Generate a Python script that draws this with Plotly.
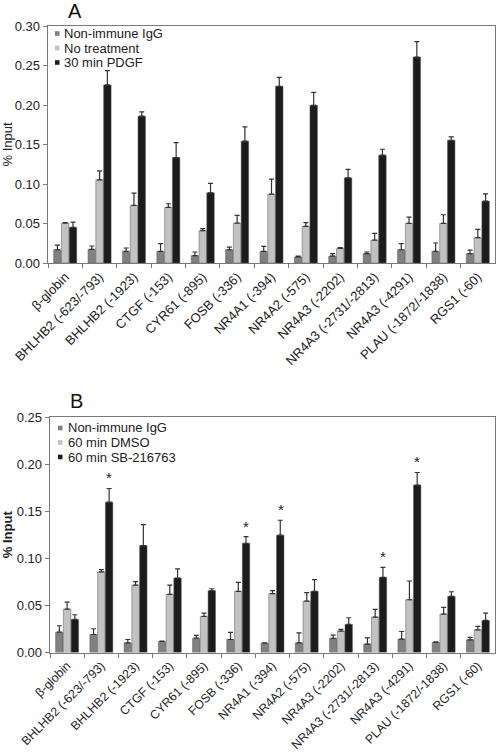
import plotly.graph_objects as go

categories = ["β-globin", "BHLHB2 (-623/-793)", "BHLHB2 (-1923)", "CTGF (-153)",
              "CYR61 (-895)", "FOSB (-336)", "NR4A1 (-394)", "NR4A2 (-575)",
              "NR4A3 (-2202)", "NR4A3 (-2731/-2813)", "NR4A3 (-4291)",
              "PLAU (-1872/-1838)", "RGS1 (-60)"]

# Panel A
a_igg = [0.0168, 0.0173, 0.0147, 0.0147, 0.0093, 0.0168, 0.0147, 0.0076, 0.0088, 0.0118, 0.0168, 0.0147, 0.0118]
a_igg_err = [0.0059, 0.0042, 0.0043, 0.0097, 0.0046, 0.0034, 0.0063, 0.0012, 0.0030, 0.0021, 0.0076, 0.0106, 0.0046]
a_nt = [0.0505, 0.1053, 0.0729, 0.0703, 0.0409, 0.0505, 0.0872, 0.0463, 0.0185, 0.0290, 0.0501, 0.0501, 0.0320]
a_nt_err = [0.0006, 0.0114, 0.0156, 0.0047, 0.0025, 0.0097, 0.0189, 0.0047, 0.0009, 0.0085, 0.0080, 0.0110, 0.0105]
a_pdgf = [0.0450, 0.2254, 0.1858, 0.1335, 0.0889, 0.1542, 0.2237, 0.1997, 0.1078, 0.1365, 0.2607, 0.1554, 0.0783]
a_pdgf_err = [0.0068, 0.0181, 0.0054, 0.0190, 0.0118, 0.0181, 0.0113, 0.0164, 0.0106, 0.0075, 0.0194, 0.0042, 0.0093]

# Panel B
b_igg = [0.0216, 0.0191, 0.0103, 0.0117, 0.0152, 0.0138, 0.0099, 0.0103, 0.0149, 0.0089, 0.0142, 0.0106, 0.0135]
b_igg_err = [0.0068, 0.0061, 0.0035, 0.0004, 0.0029, 0.0075, 0.0004, 0.0106, 0.0035, 0.0067, 0.0081, 0.0007, 0.0025]
b_dmso = [0.0461, 0.0855, 0.0716, 0.0617, 0.0383, 0.0649, 0.0624, 0.0546, 0.0227, 0.0376, 0.0560, 0.0408, 0.0241]
b_dmso_err = [0.0074, 0.0024, 0.0036, 0.0099, 0.0035, 0.0096, 0.0032, 0.0089, 0.0018, 0.0081, 0.0199, 0.0071, 0.0036]
b_sb = [0.0351, 0.1596, 0.1135, 0.0791, 0.0656, 0.1160, 0.1245, 0.0649, 0.0298, 0.0798, 0.1777, 0.0596, 0.0340]
b_sb_err = [0.0050, 0.0145, 0.0223, 0.0096, 0.0021, 0.0070, 0.0159, 0.0124, 0.0071, 0.0106, 0.0134, 0.0049, 0.0078]
b_star = [False, True, False, False, False, True, True, False, False, True, True, False, False]

legend_a = ["Non-immune IgG", "No treatment", "30 min PDGF"]
legend_b = ["Non-immune IgG", "60 min DMSO", "60 min SB-216763"]

colors = ["#808080", "#c2c2c2", "#1c1c1c"]

W, H = 496, 754
FONT = "Liberation Sans, Arial, Helvetica, sans-serif"


def px_x(p):
    return p / W


def px_y(p):
    return 1 - p / H


fig = go.Figure()


def add_panel(series, errs, names, xa, ya):
    for vals, err, name, col in zip(series, errs, names, colors):
        fig.add_trace(go.Bar(
            x=categories, y=vals, name=name, showlegend=False,
            marker=dict(color=col, line=dict(color="#5a5a5a", width=0.5)),
            error_y=dict(type="data", array=err, arrayminus=[0] * len(err), symmetric=False,
                         color="#333333", thickness=1.2, width=2.5),
            xaxis=xa, yaxis=ya))


add_panel([a_igg, a_nt, a_pdgf], [a_igg_err, a_nt_err, a_pdgf_err], legend_a, "x", "y")
add_panel([b_igg, b_dmso, b_sb], [b_igg_err, b_dmso_err, b_sb_err], legend_b, "x2", "y2")


# legend keys (small squares + labels), placed in the top-left of each panel
def add_legend(names, x_sq, x_txt, ys):
    for name, col, yc in zip(names, colors, ys):
        fig.add_shape(type="rect", xref="paper", yref="paper",
                      x0=px_x(x_sq), x1=px_x(x_sq + 4.5), y0=px_y(yc + 2.3), y1=px_y(yc - 2.3),
                      fillcolor=col, line=dict(width=0))
        fig.add_annotation(text=name, x=px_x(x_txt), y=px_y(yc), xref="paper", yref="paper",
                           xanchor="left", yanchor="middle", showarrow=False,
                           font=dict(size=13, family=FONT, color="#222"))


add_legend(legend_a, 55, 62, [33.5, 48, 62.5])
add_legend(legend_b, 58, 65.5, [428, 442.5, 457])

# significance stars
for cat, v, e, s in zip(categories, b_sb, b_sb_err, b_star):
    if s:
        fig.add_annotation(x=cat, y=v + e, xref="x2", yref="y2", text="*", showarrow=False,
                           xshift=8, yshift=0, yanchor="bottom",
                           font=dict(size=15, color="#222", family=FONT))

axis_common = dict(showline=True, linecolor="#7a7a7a", linewidth=1.3, mirror=True,
                   showgrid=False, zeroline=False, automargin=False,
                   tickfont=dict(size=13, color="#222", family=FONT))
xaxis_b_common = dict(axis_common, tickfont=dict(size=12.3, color="#222", family=FONT))

fig.update_layout(
    width=W, height=H, margin=dict(l=0, r=0, t=0, b=0),
    paper_bgcolor="white", plot_bgcolor="white",
    barmode="group", bargap=0.32, bargroupgap=0.04,
    showlegend=False,
    font=dict(family=FONT, color="#222"),
    xaxis=dict(domain=[px_x(48), px_x(495)], anchor="y", type="category",
               tickangle=-45, tickson="boundaries", ticks="outside", ticklen=4,
               tickcolor="#7a7a7a", **axis_common),
    yaxis=dict(domain=[px_y(263), px_y(26)], anchor="x", range=[0, 0.30], dtick=0.05,
               tickformat=".2f", ticks="outside", ticklen=4, tickcolor="#7a7a7a",
               title=dict(text="% Input", font=dict(size=13, family=FONT), standoff=6),
               **axis_common),
    xaxis2=dict(domain=[px_x(50), px_x(495)], anchor="y2", type="category",
                tickangle=-45, tickson="boundaries", ticks="outside", ticklen=4,
                tickcolor="#7a7a7a", **xaxis_b_common),
    yaxis2=dict(domain=[px_y(652.5), px_y(417)], anchor="x2", range=[0, 0.25], dtick=0.05,
                tickformat=".2f", ticks="outside", ticklen=4, tickcolor="#7a7a7a",
                title=dict(text="<b>% Input</b>", font=dict(size=13, family=FONT), standoff=6),
                **axis_common),
)

fig.add_annotation(text="A", x=px_x(75), y=px_y(11), xref="paper", yref="paper",
                   xanchor="center", yanchor="middle",
                   showarrow=False, font=dict(size=20, family=FONT, color="#111"))
fig.add_annotation(text="B", x=px_x(76), y=px_y(401), xref="paper", yref="paper",
                   xanchor="center", yanchor="middle",
                   showarrow=False, font=dict(size=20, family=FONT, color="#111"))

# remove the default page margin so the figure sits at the page's top-left corner
fig.write_html("out.html", config={"displayModeBar": False, "staticPlot": True}, post_script=[
    "document.body.style.margin='0';document.documentElement.style.overflow='hidden';"
])
